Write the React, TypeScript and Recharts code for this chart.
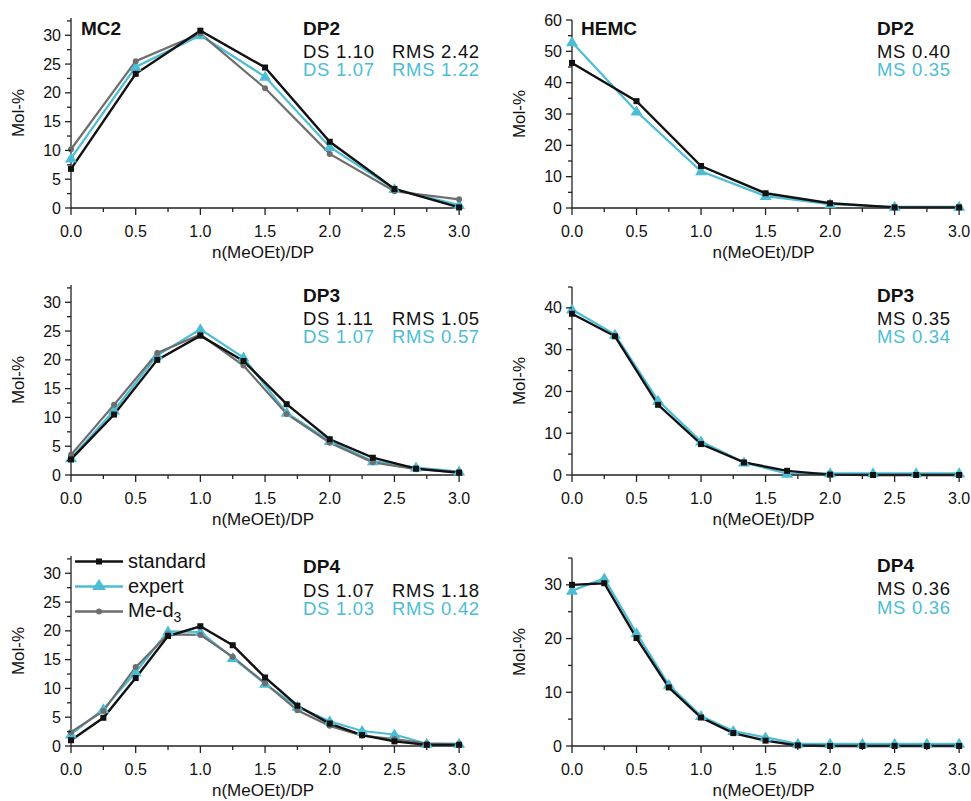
import React from 'react';
import { LineChart, Line, XAxis, YAxis, Legend, Label } from 'recharts';

const BLACK = '#111111';
const CYAN = '#4dbdd4';
const GRAY = '#6e6e6e';
const AXIS = '#222222';
const FONT = '"Liberation Sans", Arial, sans-serif';

// x positions (n(MeOEt)/DP)
const xDp2 = [0, 0.5, 1, 1.5, 2, 2.5, 3];
const xDp3 = [0, 0.333, 0.667, 1, 1.333, 1.667, 2, 2.333, 2.667, 3];
const xDp4 = [0, 0.25, 0.5, 0.75, 1, 1.25, 1.5, 1.75, 2, 2.25, 2.5, 2.75, 3];

// MC2
const mc2Dp2Standard = [6.8, 23.3, 30.8, 24.4, 11.5, 3.3, 0.1];
const mc2Dp2Expert = [8.6, 24.5, 30.0, 22.8, 10.6, 3.3, 0.5];
const mc2Dp2MeD3 = [10.2, 25.5, 30.3, 20.8, 9.4, 2.9, 1.5];

const mc2Dp3Standard = [2.7, 10.5, 20.0, 24.2, 19.8, 12.3, 6.2, 3.0, 1.1, 0.4];
const mc2Dp3Expert = [2.9, 11.2, 20.8, 25.3, 20.4, 10.8, 5.9, 2.4, 1.3, 0.6];
const mc2Dp3MeD3 = [3.5, 12.2, 21.2, 24.4, 19.0, 10.6, 5.6, 2.2, 1.0, 0.5];

const mc2Dp4Standard = [1.0, 4.9, 11.8, 19.1, 20.8, 17.5, 11.9, 7.0, 3.9, 1.9, 0.8, 0.2, 0.2];
const mc2Dp4Expert = [2.0, 6.4, 12.8, 19.9, 19.8, 15.3, 10.8, 6.8, 4.3, 2.6, 2.0, 0.4, 0.4];
const mc2Dp4MeD3 = [2.4, 6.1, 13.7, 19.4, 19.3, 15.5, 10.9, 6.2, 3.5, 1.8, 1.2, 0.4, 0.3];

// HEMC
const hemcDp2Standard = [46.3, 34.1, 13.4, 4.7, 1.5, 0.2, 0.2];
const hemcDp2Expert = [52.9, 30.8, 11.7, 3.8, 1.2, 0.4, 0.4];

const hemcDp3Standard = [38.6, 33.2, 16.8, 7.4, 3.0, 1.0, 0.1, 0, 0, 0];
const hemcDp3Expert = [39.6, 33.6, 17.8, 8.0, 3.0, 0.3, 0.4, 0.4, 0.4, 0.4];

const hemcDp4Standard = [30.0, 30.3, 20.1, 10.9, 5.3, 2.4, 1.0, 0.1, 0, 0, 0, 0, 0];
const hemcDp4Expert = [28.9, 31.2, 21.0, 11.4, 5.6, 2.8, 1.6, 0.4, 0.4, 0.4, 0.4, 0.4, 0.4];

// ticks
const xMajorTicks = [0, 0.5, 1, 1.5, 2, 2.5, 3];
const xMinorTicks = [0.25, 0.75, 1.25, 1.75, 2.25, 2.75];
const yMc2Major = [0, 5, 10, 15, 20, 25, 30];
const yMc2Minor = [2.5, 7.5, 12.5, 17.5, 22.5, 27.5, 32.5];
const yHemcMajor = [0, 10, 20, 30, 40, 50, 60];
const yHemcMinor = [5, 15, 25, 35, 45, 55];

const xTicks = [...xMajorTicks, ...xMinorTicks].sort((a, b) => a - b);

function XTick(props: any) {
  const { x, y, payload } = props;
  const v = payload.value;
  const major = xMajorTicks.includes(v);
  return (
    <g>
      <line x1={x} x2={x} y1={y} y2={y + (major ? 7 : 4)} stroke={AXIS} strokeWidth={1.3} />
      {major && (
        <text x={x} y={y + 29} textAnchor="middle" fontSize={16} fontFamily={FONT} fill={BLACK}>
          {v.toFixed(1)}
        </text>
      )}
    </g>
  );
}

function makeYTick(majors: number[]) {
  return (props: any) => {
    const { x, y, payload } = props;
    const v = payload.value;
    const major = majors.includes(v);
    return (
      <g>
        <line x1={x} x2={x - (major ? 6 : 4)} y1={y} y2={y} stroke={AXIS} strokeWidth={1.3} />
        {major && (
          <text x={x - 10} y={y + 5.5} textAnchor="end" fontSize={16} fontFamily={FONT} fill={BLACK}>
            {v}
          </text>
        )}
      </g>
    );
  };
}

const squareDot = (p: any) => (
  <rect key={`sq${p.index}`} x={p.cx - 3} y={p.cy - 3} width={6} height={6} fill={BLACK} />
);
const triangleDot = (p: any) => (
  <polygon
    key={`tr${p.index}`}
    points={`${p.cx},${p.cy - 6} ${p.cx - 6},${p.cy + 4} ${p.cx + 6},${p.cy + 4}`}
    fill={CYAN}
  />
);
const circleDot = (p: any) => <circle key={`ci${p.index}`} cx={p.cx} cy={p.cy} r={3} fill={GRAY} />;

const XLabel = (props: any) => {
  const vb = props.viewBox || {};
  return (
    <text x={vb.x + vb.width / 2 - 4} y={vb.y + 50} textAnchor="middle" fontSize={17} fontFamily={FONT} fill={BLACK}>
      n(MeOEt)/DP
    </text>
  );
};

const YLabel = (props: any) => {
  const vb = props.viewBox || {};
  const cx = vb.x + vb.width - 53;
  const cy = vb.y + vb.height / 2;
  return (
    <text x={cx} y={cy} transform={`rotate(-90 ${cx} ${cy})`} textAnchor="middle" dominantBaseline="central" fontSize={17} fontFamily={FONT} fill={BLACK}>
      Mol-%
    </text>
  );
};

const legendItems = [
  { key: 'standard', label: 'standard', color: BLACK, marker: 'square' },
  { key: 'expert', label: 'expert', color: CYAN, marker: 'triangle' },
  { key: 'meD3', label: 'Me-d', color: GRAY, marker: 'circle' },
];

const renderLegend = () => (
  <div style={{ fontFamily: FONT, fontSize: 20, color: BLACK }}>
    {legendItems.map((it) => (
      <div key={it.key} style={{ display: 'flex', alignItems: 'center', height: 25 }}>
        <svg width={53} height={25}>
          <line x1={0} x2={48} y1={12.5} y2={12.5} stroke={it.color} strokeWidth={2.5} />
          {it.marker === 'square' && <rect x={21} y={9.5} width={6} height={6} fill={it.color} />}
          {it.marker === 'triangle' && <polygon points="24,5 17,16 31,16" fill={it.color} />}
          {it.marker === 'circle' && <circle cx={24} cy={12.5} r={3} fill={it.color} />}
        </svg>
        <span>
          {it.label}
          {it.key === 'meD3' && <sub style={{ fontSize: 14 }}>3</sub>}
        </span>
      </div>
    ))}
  </div>
);

interface PanelProps {
  left: number;
  top: number;
  width: number;
  height: number;
  margin: { top: number; right: number; bottom: number; left: number };
  xs: number[];
  standard: number[];
  expert: number[];
  meD3?: number[];
  yMax: number;
  yMajor: number[];
  yMinor: number[];
  legend?: boolean;
}

function Panel({ left, top, width, height, margin, xs, standard, expert, meD3, yMax, yMajor, yMinor, legend }: PanelProps) {
  const data = xs.map((x, i) => ({ x, standard: standard[i], expert: expert[i], meD3: meD3 ? meD3[i] : undefined }));
  const yTicks = [...yMajor, ...yMinor].filter((t) => t <= yMax).sort((a, b) => a - b);
  return (
    <div style={{ position: 'absolute', left, top, width, height }}>
      <LineChart width={width} height={height} data={data} margin={margin}>
        <XAxis
          dataKey="x"
          type="number"
          domain={[0, 3.03]}
          ticks={xTicks}
          interval={0}
          tickLine={false}
          tickSize={0}
          tickMargin={0}
          tick={XTick}
          axisLine={{ stroke: AXIS, strokeWidth: 1.3 }}
          height={55}
        >
          <Label content={XLabel} />
        </XAxis>
        <YAxis
          type="number"
          domain={[0, yMax]}
          ticks={yTicks}
          interval={0}
          tickLine={false}
          tickSize={0}
          tickMargin={0}
          tick={makeYTick(yMajor)}
          axisLine={{ stroke: AXIS, strokeWidth: 1.3 }}
          width={60}
        >
          <Label content={YLabel} />
        </YAxis>
        {legend && (
          <Legend
            layout="vertical"
            align="center"
            verticalAlign="middle"
            wrapperStyle={{ left: 75, top: 19, width: 'auto' }}
            content={renderLegend}
          />
        )}
        <Line dataKey="expert" name="expert" stroke={CYAN} strokeWidth={2.2} dot={triangleDot} isAnimationActive={false} />
        {meD3 && (
          <Line dataKey="meD3" name="Me-d3" stroke={GRAY} strokeWidth={2.2} dot={circleDot} isAnimationActive={false} />
        )}
        <Line dataKey="standard" name="standard" stroke={BLACK} strokeWidth={2.4} dot={squareDot} isAnimationActive={false} />
      </LineChart>
    </div>
  );
}

const T = (p: { x: number; y: number; c?: string; b?: boolean; children: React.ReactNode }) => (
  <text
    x={p.x}
    y={p.y}
    fill={p.c || BLACK}
    fontWeight={p.b ? 'bold' : 'normal'}
    fontSize={p.b ? 19 : 18.5}
    letterSpacing={p.b ? 0 : 0.7}
    fontFamily={FONT}
  >
    {p.children}
  </text>
);

export default function App() {
  return (
    <div style={{ position: 'absolute', left: 0, top: 0, width: 971, height: 801, background: '#fff', overflow: 'hidden' }}>
      <Panel left={0} top={0} width={490} height={270} margin={{ top: 18, right: 27, bottom: 7, left: 11 }}
        xs={xDp2} standard={mc2Dp2Standard} expert={mc2Dp2Expert} meD3={mc2Dp2MeD3}
        yMax={33} yMajor={yMc2Major} yMinor={yMc2Minor} />
      <Panel left={490} top={0} width={481} height={270} margin={{ top: 20, right: 8, bottom: 7, left: 22 }}
        xs={xDp2} standard={hemcDp2Standard} expert={hemcDp2Expert}
        yMax={60} yMajor={yHemcMajor} yMinor={yHemcMinor} />
      <Panel left={0} top={270} width={490} height={260} margin={{ top: 15, right: 27, bottom: 0, left: 11 }}
        xs={xDp3} standard={mc2Dp3Standard} expert={mc2Dp3Expert} meD3={mc2Dp3MeD3}
        yMax={33} yMajor={yMc2Major} yMinor={yMc2Minor} />
      <Panel left={490} top={270} width={481} height={260} margin={{ top: 17, right: 8, bottom: 0, left: 22 }}
        xs={xDp3} standard={hemcDp3Standard} expert={hemcDp3Expert}
        yMax={45} yMajor={yHemcMajor} yMinor={yHemcMinor} />
      <Panel left={0} top={530} width={490} height={271} margin={{ top: 26, right: 27, bottom: 0, left: 11 }}
        xs={xDp4} standard={mc2Dp4Standard} expert={mc2Dp4Expert} meD3={mc2Dp4MeD3}
        yMax={33} yMajor={yMc2Major} yMinor={yMc2Minor} legend />
      <Panel left={490} top={530} width={481} height={271} margin={{ top: 28, right: 8, bottom: 0, left: 22 }}
        xs={xDp4} standard={hemcDp4Standard} expert={hemcDp4Expert}
        yMax={35} yMajor={yHemcMajor} yMinor={yHemcMinor} />

      <svg width={971} height={801} style={{ position: 'absolute', left: 0, top: 0, pointerEvents: 'none' }}>
        <T x={81} y={35} b>MC2</T>
        <T x={581} y={35} b>HEMC</T>

        <T x={303} y={35} b>DP2</T>
        <T x={303} y={57.5}>DS 1.10</T>
        <T x={392} y={57.5}>RMS 2.42</T>
        <T x={303} y={75.5} c={CYAN}>DS 1.07</T>
        <T x={392} y={75.5} c={CYAN}>RMS 1.22</T>

        <T x={877} y={34.5} b>DP2</T>
        <T x={877} y={58}>MS 0.40</T>
        <T x={877} y={76} c={CYAN}>MS 0.35</T>

        <T x={303} y={302} b>DP3</T>
        <T x={303} y={325}>DS 1.11</T>
        <T x={392} y={325}>RMS 1.05</T>
        <T x={303} y={343} c={CYAN}>DS 1.07</T>
        <T x={392} y={343} c={CYAN}>RMS 0.57</T>

        <T x={877} y={302} b>DP3</T>
        <T x={877} y={325}>MS 0.35</T>
        <T x={877} y={343} c={CYAN}>MS 0.34</T>

        <T x={303} y={573} b>DP4</T>
        <T x={303} y={596.5}>DS 1.07</T>
        <T x={392} y={596.5}>RMS 1.18</T>
        <T x={303} y={614.5} c={CYAN}>DS 1.03</T>
        <T x={392} y={614.5} c={CYAN}>RMS 0.42</T>

        <T x={877} y={572} b>DP4</T>
        <T x={877} y={595}>MS 0.36</T>
        <T x={877} y={614} c={CYAN}>MS 0.36</T>
      </svg>
    </div>
  );
}
